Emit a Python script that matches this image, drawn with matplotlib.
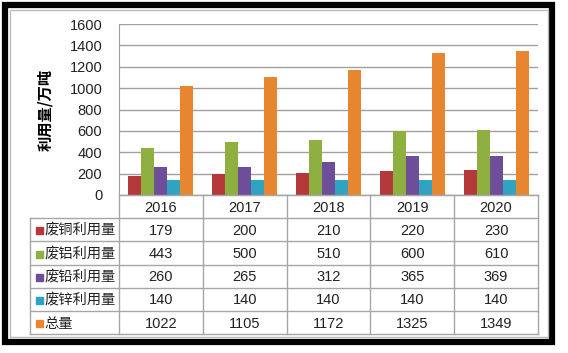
import matplotlib.pyplot as plt
from matplotlib.patches import Rectangle
import numpy as np

plt.rcParams['font.family'] = ['Liberation Sans Narrow', 'Liberation Sans', 'Noto Sans CJK SC', 'DejaVu Sans']

# 数据
years = ['2016', '2017', '2018', '2019', '2020']
series_names = ['废铜利用量', '废铝利用量', '废铅利用量', '废锌利用量', '总量']
copper = [179, 200, 210, 220, 230]
aluminum = [443, 500, 510, 600, 610]
lead = [260, 265, 312, 365, 369]
zinc = [140, 140, 140, 140, 140]
total = [1022, 1105, 1172, 1325, 1349]
colors = ['#B5393B', '#8DB040', '#6E4D99', '#2FA3C2', '#E8862F']

W, H = 568, 353
fig = plt.figure(figsize=(W / 100, H / 100), dpi=100)
fig.patch.set_facecolor('white')


def fx(px):
    return px / W


def fy(py):
    return 1 - py / H


# 外框
fig.add_artist(Rectangle((fx(5), fy(342)), fx(552) - fx(5), fy(5) - fy(342),
                         transform=fig.transFigure, fill=False, edgecolor='black', linewidth=4.5))
fig.add_artist(Rectangle((fx(10), fy(337)), fx(548) - fx(10), fy(10) - fy(337),
                         transform=fig.transFigure, fill=False, edgecolor='#BBBBBB', linewidth=1.0))

# 柱状图
x0, x1, ytop, ybot = 119, 538, 24, 195
ax = fig.add_axes([fx(x0), fy(ybot), fx(x1) - fx(x0), fy(ytop) - fy(ybot)])
data = [copper, aluminum, lead, zinc, total]
x = np.arange(len(years))
bw = 0.155
for i, (vals, c) in enumerate(zip(data, colors)):
    ax.bar(x + (i - 2) * bw, vals, width=bw, color=c, edgecolor='none', zorder=3)

ax.set_xlim(-0.5, len(years) - 0.5)
ax.set_ylim(0, 1600)
ax.set_yticks(range(0, 1601, 200))
ax.yaxis.grid(True, color='#A0A0A0', linewidth=1.0, zorder=0)
ax.set_xticks([])
ax.tick_params(axis='y', length=0, pad=12, labelsize=10.5, colors='#222222')
for s in ['top', 'right']:
    ax.spines[s].set_visible(False)
ax.spines['left'].set_color('#A0A0A0')
ax.spines['bottom'].set_color('#A0A0A0')
ax.set_ylabel('利用量/万吨', fontsize=11, fontweight='bold', family=['Noto Sans CJK SC'], labelpad=12)

# 数据表
row_h = 23.2
rows_y = [ybot + k * row_h for k in range(7)]
col_x = [x0 + k * (x1 - x0) / 5 for k in range(6)]
tl = 30
lc = '#A6A6A6'
tax = fig.add_axes([0, 0, 1, 1], facecolor='none')
tax.set_xlim(0, W)
tax.set_ylim(H, 0)
tax.axis('off')

tax.plot([x0, x1], [rows_y[0], rows_y[0]], color=lc, lw=1.0)
for yy in rows_y[1:]:
    tax.plot([tl, x1], [yy, yy], color=lc, lw=1.0)
tax.plot([tl, tl], [rows_y[1], rows_y[-1]], color=lc, lw=1.0)
for xx in col_x:
    tax.plot([xx, xx], [rows_y[0], rows_y[-1]], color=lc, lw=1.0)

for j, yr in enumerate(years):
    cx = (col_x[j] + col_x[j + 1]) / 2
    tax.text(cx, (rows_y[0] + rows_y[1]) / 2 + 1, yr, ha='center', va='center', fontsize=10.5, color='#222222')

for i, (name, vals, c) in enumerate(zip(series_names, data, colors)):
    cy = (rows_y[i + 1] + rows_y[i + 2]) / 2 + 1
    tax.add_patch(Rectangle((tl + 6, cy - 3.5), 7, 7, color=c))
    tax.text(tl + 14, cy, name, ha='left', va='center', fontsize=10.3,
             family=['Noto Sans CJK SC'], color='#222222')
    for j, v in enumerate(vals):
        cx = (col_x[j] + col_x[j + 1]) / 2
        tax.text(cx, cy, str(v), ha='center', va='center', fontsize=10.5, color='#222222')

fig.savefig('out.png', dpi=100)
